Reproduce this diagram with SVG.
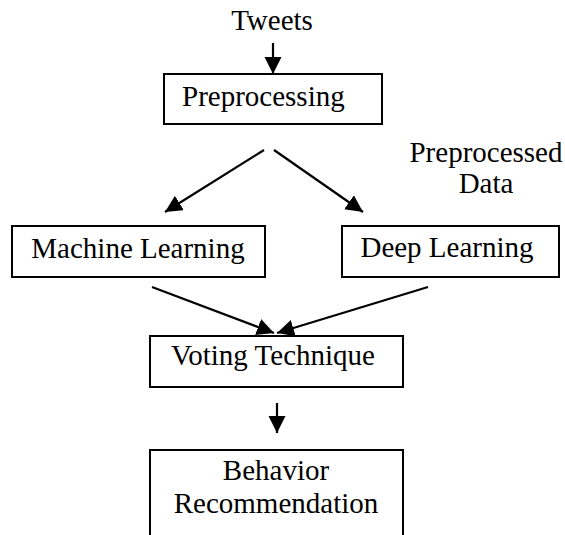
<svg xmlns="http://www.w3.org/2000/svg" width="565" height="535" viewBox="0 0 565 535">
<style>
text{font-family:"Liberation Serif","Times New Roman",serif;font-size:29px;fill:#000}
.box{fill:#fff;stroke:#000;stroke-width:2}
.ln{stroke:#000;stroke-width:2.2;fill:none}
</style>
<defs>
<marker id="ah" markerUnits="userSpaceOnUse" markerWidth="18" markerHeight="18" refX="17" refY="8.5" orient="auto">
<path d="M0,0 L17,8.5 L0,17 z" fill="#000"/>
</marker>
</defs>
<rect width="565" height="535" fill="#fff"/>
<g id="tweets"><text x="272" y="30" text-anchor="middle">Tweets</text></g>
<g id="preprocessing"><rect class="box" x="164" y="74" width="218" height="50"/><text x="182" y="106">Preprocessing</text></g>
<g id="preprocessed-data"><text x="486" y="162" text-anchor="middle">Preprocessed</text><text x="486" y="193" text-anchor="middle">Data</text></g>
<g id="machine-learning"><rect class="box" x="12" y="226" width="253" height="51"/><text x="138" y="258" text-anchor="middle">Machine Learning</text></g>
<g id="deep-learning"><rect class="box" x="342" y="226" width="217" height="51"/><text x="447" y="257" text-anchor="middle">Deep Learning</text></g>
<g id="voting"><rect class="box" x="150" y="336" width="253" height="51"/><text x="273" y="365" text-anchor="middle">Voting Technique</text></g>
<g id="behavior"><rect class="box" x="150" y="450" width="253" height="100"/><text x="276" y="480" text-anchor="middle">Behavior</text><text x="276" y="513" text-anchor="middle">Recommendation</text></g>
<g id="connectors">
<line class="ln" x1="273" y1="43" x2="273" y2="74" marker-end="url(#ah)"/>
<line class="ln" x1="264" y1="150" x2="165" y2="212" marker-end="url(#ah)"/>
<line class="ln" x1="274" y1="150" x2="363" y2="212" marker-end="url(#ah)"/>
<line class="ln" x1="152" y1="287" x2="274" y2="333" marker-end="url(#ah)"/>
<line class="ln" x1="428" y1="287" x2="277" y2="333" marker-end="url(#ah)"/>
<line class="ln" x1="277" y1="403" x2="277" y2="433" marker-end="url(#ah)"/>
</g>
</svg>
